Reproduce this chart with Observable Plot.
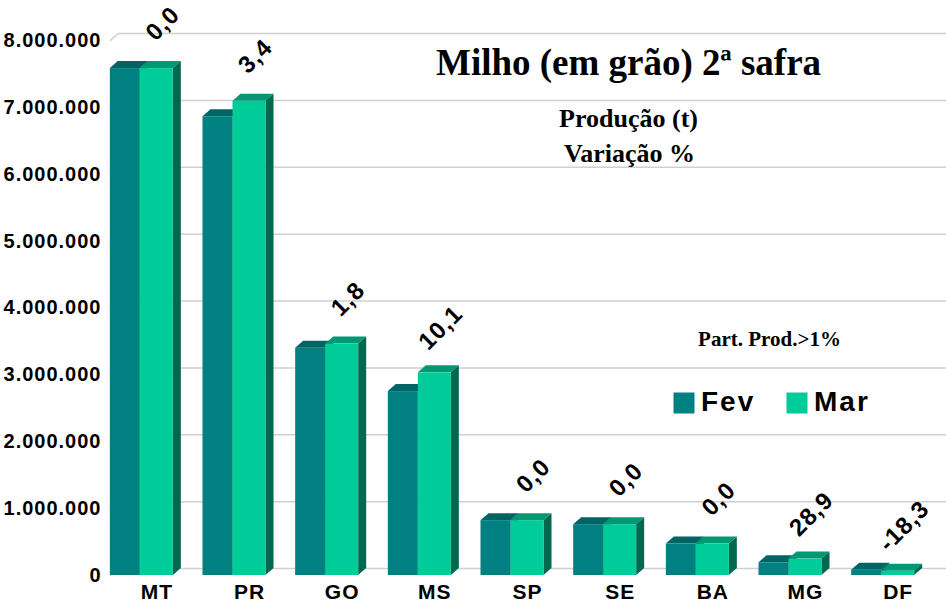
<!DOCTYPE html>
<html>
<head>
<meta charset="utf-8">
<script src="https://cdn.jsdelivr.net/npm/d3@7"></script>
<script src="https://cdn.jsdelivr.net/npm/@observablehq/plot@0.6"></script>
<style>
  html, body { margin: 0; padding: 0; background: #ffffff; }
  #chart svg text { letter-spacing: 1px; }
  #chart svg g[font-family="Liberation Serif"] text { letter-spacing: 0; }
  #chart svg g[font-size="28"] text { letter-spacing: 2px; }
</style>
</head>
<body>
<div id="chart"></div>
<script>
// ---- data ----
const categories = ["MT", "PR", "GO", "MS", "SP", "SE", "BA", "MG", "DF"];
const seriesNames = ["Fev", "Mar"];
const fevValues = [7580000, 6860000, 3400000, 2750000, 820000, 760000, 470000, 190000, 80000];
const marValues = [7580000, 7090000, 3460000, 3030000, 820000, 760000, 470000, 245000, 65000];
const variation = [0.0, 3.4, 1.8, 10.1, 0.0, 0.0, 0.0, 28.9, -18.3];
const yTicks = [0, 1000000, 2000000, 3000000, 4000000, 5000000, 6000000, 7000000, 8000000];
const titleText = "Milho (em grão) 2ª safra";
const subtitleLines = ["Produção (t)", "Variação %"];
const noteText = "Part. Prod.>1%";

// ---- layout ----
const W = 946, H = 603, ML = 95, MR = 17, MT = 40, MB = 28;
const UX = (W - ML - MR) / categories.length;   // px per category
const UY = (H - MT - MB) / 8000000;              // px per unit
const px2x = p => p / UX;
const px2y = p => p / UY;
const DEPTH_X = 8, DEPTH_Y = 7;
const barOffsets = {Fev: [-31.5, -1.5], Mar: [-1.5, 31.5]};
const faces = {
  Fev: {front: "#008080", top: "#006464", side: "#005252"},
  Mar: {front: "#00CC99", top: "#009974", side: "#00684E"}
};

const ptLocale = d3.formatLocale({decimal: ",", thousands: ".", grouping: [3], currency: ["", ""], minus: "-"});
const fmtInt = ptLocale.format(",d");
const fmtPct = ptLocale.format(".1f");

const bars = categories.flatMap((c, i) => seriesNames.map((s, k) => ({
  id: c + s, cat: c, i, series: s,
  value: (k === 0 ? fevValues : marValues)[i],
  a: i + px2x(barOffsets[s][0]),
  b: i + px2x(barOffsets[s][1])
})));

const topPts = bars.flatMap(d => [
  {id: d.id, series: d.series, y: d.value, x1: d.a, x2: d.b},
  {id: d.id, series: d.series, y: d.value + px2y(DEPTH_Y), x1: d.a + px2x(DEPTH_X), x2: d.b + px2x(DEPTH_X)}
]);
const sidePts = bars.flatMap(d => [
  {id: d.id, series: d.series, x: d.b, y1: 0, y2: d.value},
  {id: d.id, series: d.series, x: d.b + px2x(DEPTH_X), y1: px2y(DEPTH_Y), y2: d.value + px2y(DEPTH_Y)}
]);

const xLeft = px2x(barOffsets.Fev[0]);
const xRight = px2x(W - ML - UX / 2);
const gridPts = yTicks.flatMap(t => [
  {t, x: xLeft, y: t},
  {t, x: xLeft + px2x(DEPTH_X), y: t + px2y(DEPTH_Y)},
  {t, x: xRight, y: t + px2y(DEPTH_Y)}
]);

const labelRows = categories.map((c, i) => ({cat: c, i, mar: marValues[i], v: variation[i]}));

const barMarks = seriesNames.flatMap(s => [
  Plot.areaX(topPts.filter(d => d.series === s), {y: "y", x1: "x1", x2: "x2", z: "id", fill: faces[s].top}),
  Plot.areaY(sidePts.filter(d => d.series === s), {x: "x", y1: "y1", y2: "y2", z: "id", fill: faces[s].side}),
  Plot.rect(bars.filter(d => d.series === s), {x1: "a", x2: "b", y1: 0, y2: "value", fill: faces[s].front})
]);

const legendSquares = {Fev: 683.5, Mar: 796.5};
const legendMarks = seriesNames.flatMap(s => [
  Plot.dot([s], {frameAnchor: "top-left", dx: legendSquares[s] - ML, dy: 402.5 - MT, symbol: "square", r: 11.85, fill: faces[s].front}),
  Plot.text([s], {text: d => d, frameAnchor: "top-left", dx: legendSquares[s] + 17 - ML, dy: 402 - MT,
    textAnchor: "start", lineAnchor: "middle", fontSize: 28, fontWeight: "bold", fill: "black"})
]);

const serif = "Liberation Serif";
const textMarks = [
  Plot.text([titleText], {text: d => d, frameAnchor: "top-left", dx: 628 - ML, dy: 63 - MT,
    textAnchor: "middle", lineAnchor: "middle", fontFamily: serif, fontSize: 37, fontWeight: "bold", fill: "black"}),
  Plot.text([subtitleLines[0]], {text: d => d, frameAnchor: "top-left", dx: 628 - ML, dy: 118 - MT,
    textAnchor: "middle", lineAnchor: "middle", fontFamily: serif, fontSize: 26, fontWeight: "bold", fill: "black"}),
  Plot.text([subtitleLines[1]], {text: d => d, frameAnchor: "top-left", dx: 629 - ML, dy: 153 - MT,
    textAnchor: "middle", lineAnchor: "middle", fontFamily: serif, fontSize: 26, fontWeight: "bold", fill: "black"}),
  Plot.text([noteText], {text: d => d, frameAnchor: "top-left", dx: 769 - ML, dy: 339 - MT,
    textAnchor: "middle", lineAnchor: "middle", fontFamily: serif, fontSize: 21, fontWeight: "bold", fill: "black"})
];

const chart = Plot.plot({
  width: W, height: H,
  marginLeft: ML, marginRight: MR, marginTop: MT, marginBottom: MB,
  style: {fontFamily: "Liberation Sans, Arial, sans-serif", fontSize: "20px", fontWeight: "bold", background: "#ffffff", color: "#000000"},
  x: {type: "linear", domain: [-0.5, categories.length - 0.5], axis: null},
  y: {domain: [0, 8000000], ticks: yTicks, tickFormat: fmtInt, tickSize: 0, tickPadding: -6, label: null},
  marks: [
    Plot.line(gridPts, {x: "x", y: "y", z: "t", stroke: "#d0d0d0", strokeWidth: 1.5}),
    ...barMarks,
    Plot.text(labelRows, {x: d => d.i + px2x(15), y: "mar", text: d => fmtPct(d.v), rotate: -45,
      dx: 6, dy: -45, fontSize: 24, fontWeight: "bold", fill: "black"}),
    Plot.text(labelRows, {x: d => d.i, y: 0, text: "cat", dx: 15, dy: 17, fontSize: 21, fontWeight: "bold", fill: "black"}),
    ...textMarks,
    ...legendMarks
  ]
});
document.getElementById("chart").appendChild(chart);
</script>
</body>
</html>
